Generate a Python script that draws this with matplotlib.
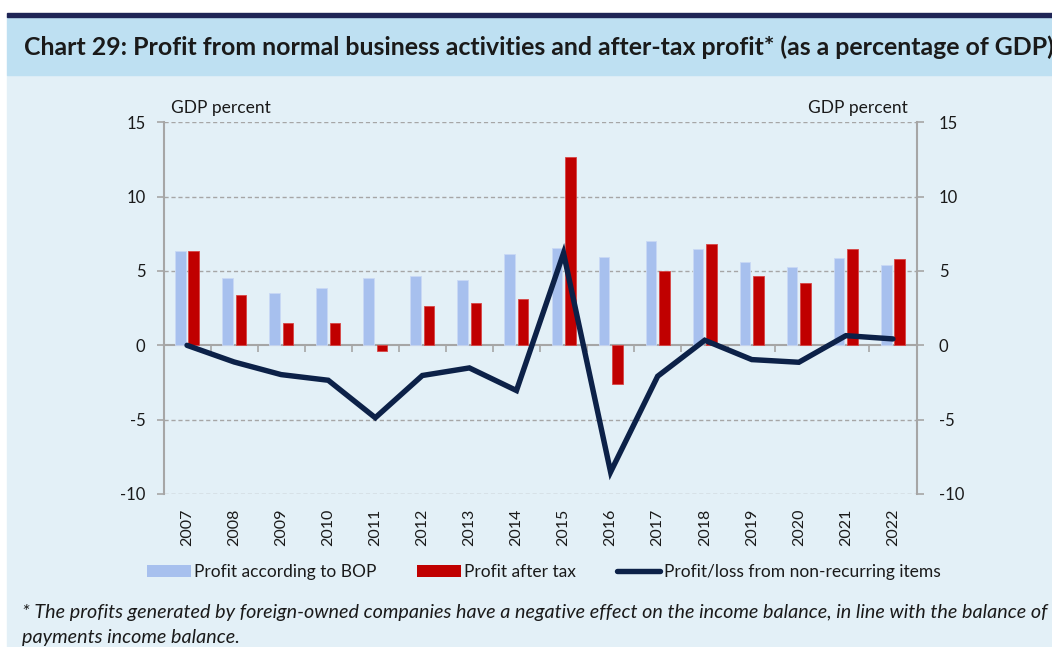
import numpy as np
import matplotlib
matplotlib.use("Agg")
import matplotlib.pyplot as plt
from matplotlib.patches import Rectangle, Patch
from matplotlib.lines import Line2D
import matplotlib.transforms as mtransforms

plt.rcParams["font.family"] = ["Lato", "DejaVu Sans"]

# ── Data (GDP percent) ────────────────────────────────────────────────────────
years = ["2007", "2008", "2009", "2010", "2011", "2012", "2013", "2014",
         "2015", "2016", "2017", "2018", "2019", "2020", "2021", "2022"]
profit_bop = [6.34, 4.56, 3.49, 3.87, 4.52, 4.68, 4.39, 6.17,
              6.54, 5.95, 7.05, 6.47, 5.60, 5.30, 5.84, 5.40]
profit_after_tax = [6.34, 3.38, 1.52, 1.52, -0.36, 2.66, 2.87, 3.11,
                    12.64, -2.57, 5.01, 6.80, 4.66, 4.16, 6.49, 5.82]
non_recurring = [0.0, -1.12, -1.97, -2.35, -4.87, -2.03, -1.52, -3.04,
                 6.20, -8.52, -2.08, 0.34, -0.96, -1.14, 0.65, 0.43]

title = ("Chart 29: Profit from normal business activities and after-tax "
         "profit* (as a percentage of GDP)")
footnote = ("* The profits generated by foreign-owned companies have a negative "
            "effect on the income balance, in line with the balance of\n"
            "payments income balance.")

C_BLUE  = "#A7C0EE"
C_RED   = "#C00000"
C_NAVY  = "#0C2148"
C_GRID  = "#A6A6A6"
C_BAND  = "#BEE0F2"
C_PANEL = "#E3F0F7"

W, H = 1052, 647
fig = plt.figure(figsize=(W / 100, H / 100), dpi=100, facecolor="white")

def px_rect(x0, y0, x1, y1, color):
    # rectangle given in pixel coords from top-left
    fig.patches.append(Rectangle((x0 / W, 1 - y1 / H), (x1 - x0) / W, (y1 - y0) / H,
                                 transform=fig.transFigure, color=color, zorder=-5))

px_rect(7, 75, W, H, C_PANEL)
px_rect(7, 16, W, 75, C_BAND)
px_rect(7, 13.5, W, 16.5, "#1F2556")

fig.text(24 / W, 1 - 47 / H, title, fontsize=17.9, fontweight="bold",
         color="#1A1A1A", ha="left", va="center")

# ── Axes ──────────────────────────────────────────────────────────────────────
left, right, top, bottom = 163.5, 916.5, 122.3, 494.0
ax = fig.add_axes([left / W, 1 - bottom / H, (right - left) / W, (bottom - top) / H])
ax.set_facecolor("none")

x = np.arange(len(years))
bw = 0.225
off = 0.143
ax.bar(x - off, profit_bop, bw, color=C_BLUE, edgecolor="#C9D9F5", lw=0.6, zorder=3)
ax.bar(x + off, profit_after_tax, bw, color=C_RED, edgecolor="#D84545", lw=0.6, zorder=3)
ax.plot(x, non_recurring, color=C_NAVY, lw=3.9, solid_joinstyle="miter",
        solid_capstyle="round", zorder=4)

ax.set_xlim(-0.5, len(years) - 0.5)
ax.set_ylim(-10, 15)
ax.set_yticks([-10, -5, 0, 5, 10, 15])
ax.set_yticklabels(["-10", "-5", "0", "5", "10", "15"])

for yv in [-10, -5, 5, 10, 15]:
    ax.axhline(yv, color=C_GRID, lw=1.0, ls=(0, (3, 2)), zorder=1)

for s in ["top", "right"]:
    ax.spines[s].set_visible(False)
ax.spines["bottom"].set_position(("data", 0))
ax.spines["bottom"].set_color(C_GRID)
ax.spines["bottom"].set_linewidth(1.5)
ax.spines["bottom"].set_zorder(2)
ax.spines["left"].set_color(C_GRID)
ax.spines["left"].set_linewidth(1.5)

ax.set_xticks(np.arange(0.5, len(years) - 0.5, 1.0))
ax.tick_params(axis="x", length=5, width=1.2, color=C_GRID, labelbottom=False)
ax.tick_params(axis="y", length=5, width=1.2, color=C_GRID, labelsize=12,
               labelcolor="#1A1A1A", pad=8)

trans = mtransforms.blended_transform_factory(ax.transData, ax.transAxes)
for xi, yr in zip(x, years):
    ax.text(xi, -15 / (bottom - top), yr, rotation=90, ha="center", va="top",
            fontsize=11.5, color="#1A1A1A", transform=trans)

ax2 = ax.twinx()
ax2.set_ylim(-10, 15)
ax2.set_yticks([-10, -5, 0, 5, 10, 15])
ax2.set_yticklabels(["-10", "-5", "0", "5", "10", "15"])
for s in ["top", "left", "bottom"]:
    ax2.spines[s].set_visible(False)
ax2.spines["right"].set_color(C_GRID)
ax2.spines["right"].set_linewidth(1.5)
ax2.tick_params(axis="y", length=5, width=1.2, color=C_GRID, labelsize=12,
                labelcolor="#1A1A1A", pad=11)

fig.text(171 / W, 1 - 108 / H, "GDP percent", fontsize=12.5, ha="left",
         va="center", color="#1A1A1A")
fig.text(908 / W, 1 - 108 / H, "GDP percent", fontsize=12.5, ha="right",
         va="center", color="#1A1A1A")

# ── Legend ────────────────────────────────────────────────────────────────────
handles = [Patch(facecolor=C_BLUE, edgecolor="none"),
           Patch(facecolor=C_RED, edgecolor="none"),
           Line2D([0], [0], color=C_NAVY, lw=3.9, solid_capstyle="round")]
labels = ["Profit according to BOP", "Profit after tax",
          "Profit/loss from non-recurring items"]
fig.legend(handles, labels, loc="center", bbox_to_anchor=(544 / W, 1 - 572 / H),
           ncol=3, frameon=False, fontsize=12.5, handlelength=2.5, handleheight=0.7,
           handletextpad=0.2, columnspacing=2.35, labelcolor="#1A1A1A")

fig.text(22 / W, 1 - 625 / H, footnote, fontsize=14.2, style="italic",
         ha="left", va="center", color="#1A1A1A", linespacing=1.62)

fig.savefig("out.png", dpi=100, facecolor=fig.get_facecolor())
